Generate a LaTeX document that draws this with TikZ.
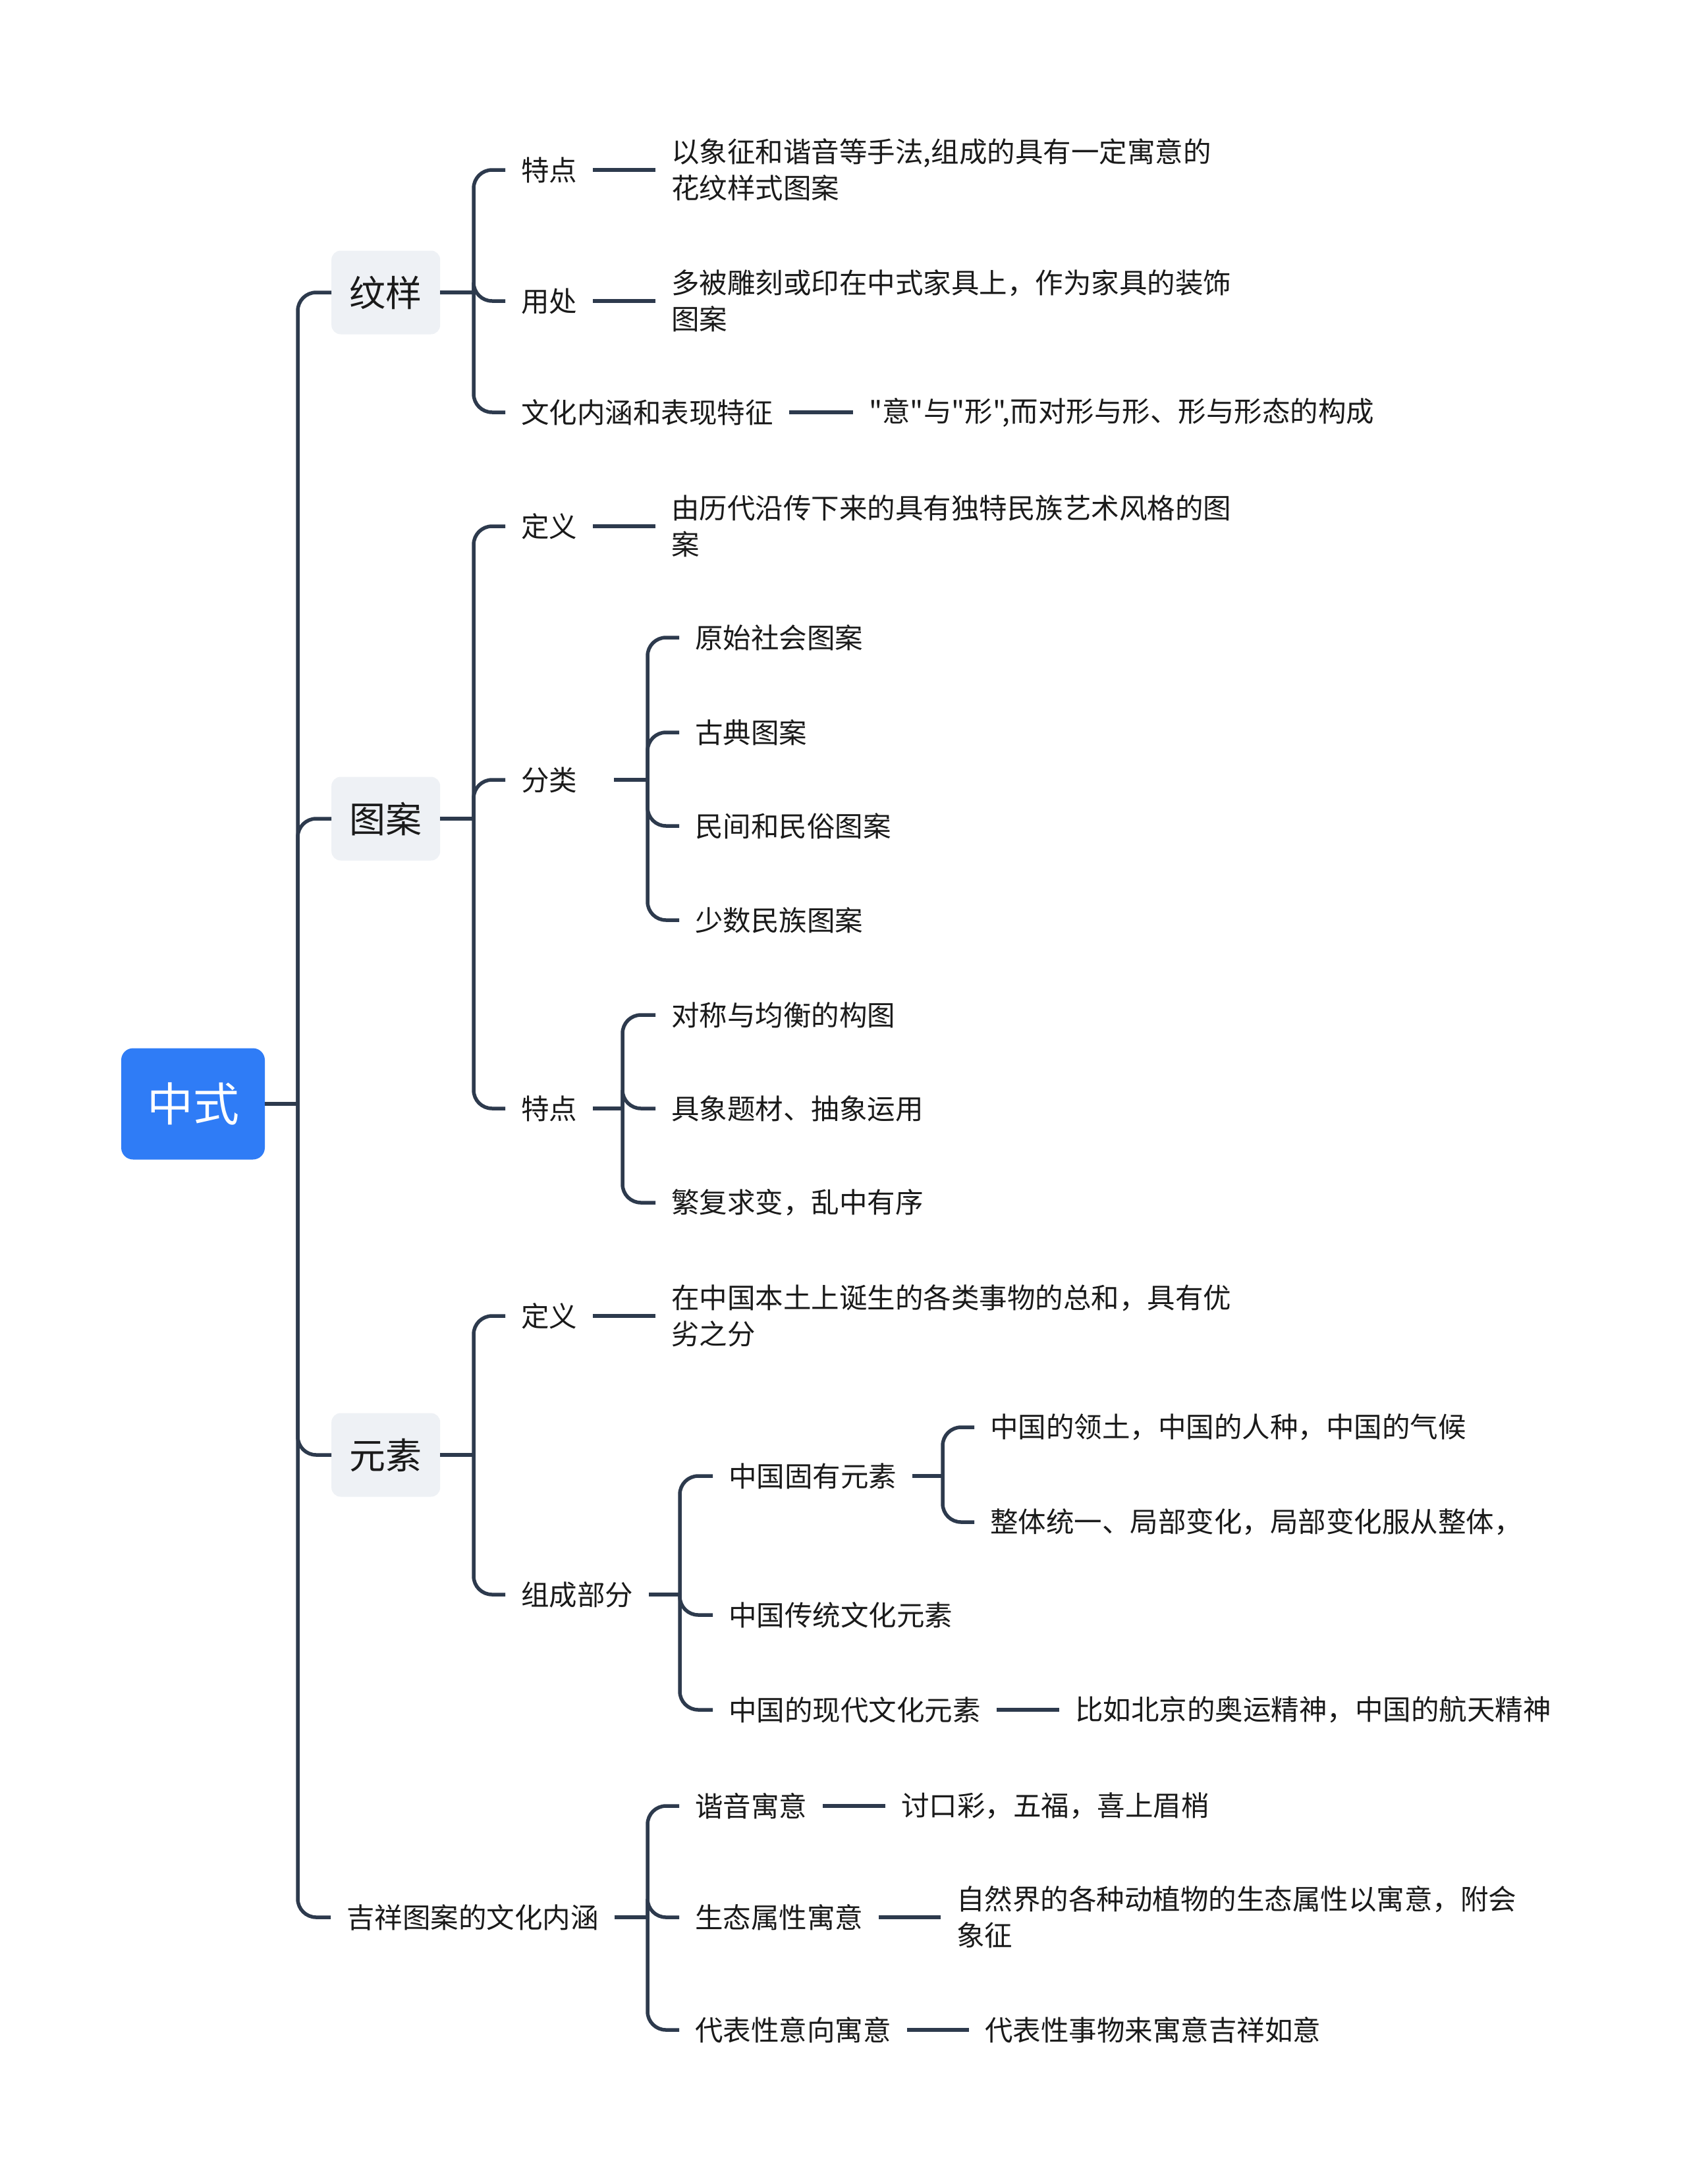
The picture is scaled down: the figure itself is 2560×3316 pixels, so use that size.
\documentclass[tikz,border=0pt]{standalone}
\usepackage{fontspec}
\setmainfont{Noto Sans CJK SC}
\newfontfamily\plainq{Noto Sans CJK SC}
\definecolor{lc}{HTML}{2D3A4D}
\definecolor{rootc}{HTML}{2F7CF6}
\definecolor{boxc}{HTML}{EEF1F5}
\definecolor{tc}{HTML}{1A1A1A}
\tikzset{
 conn/.style={draw=lc, line width=5.5pt, rounded corners=28pt},
 txt/.style={anchor=west, inner xsep=24pt, inner ysep=4pt, font=\fontsize{42.5}{55}\selectfont, align=left, text=tc},
 lone/.style={anchor=west, fill=boxc, rounded corners=14pt, minimum width=165pt, minimum height=127pt, font=\fontsize{55}{66}\selectfont, inner sep=0pt, text=tc},
 rootn/.style={fill=rootc, rounded corners=18pt, minimum width=218pt, minimum height=169pt, font=\fontsize{70}{80}\selectfont, text=white, inner sep=0pt},
}
\begin{document}
\begin{tikzpicture}[x=1pt,y=-1pt]
\fill[white] (0,0) rectangle (2560,3316);
\path[use as bounding box] (0,0) rectangle (2560,3316);
% root and level 1
\node[rootn] (root) at (293,1676) {中式};
\coordinate (j0) at (452,1676);
\node[lone] (wy) at (503,444) {纹样};
\node[lone] (ta) at (503,1243) {图案};
\node[lone] (ys) at (503,2209) {元素};
\node[txt] (jx) at (502,2911) {吉祥图案的文化内涵};
\draw[conn] (root.east) -- (j0);
\foreach \n in {wy,ta,ys,jx} \draw[conn] (j0) |- (\n.west);
% 纹样
\coordinate (j1) at (719,444);
\draw[conn] (wy.east) -- (j1);
\node[txt] (wy1) at (767,258) {特点};
\node[txt] (wy2) at (767,457) {用处};
\node[txt] (wy3) at (767,626) {文化内涵和表现特征};
\foreach \n in {wy1,wy2,wy3} \draw[conn] (j1) |- (\n.west);
\node[txt] (wy1a) at (995,258) {以象征和谐音等手法,组成的具有一定寓意的\\花纹样式图案};
\node[txt] (wy2a) at (995,457) {多被雕刻或印在中式家具上，作为家具的装饰\\图案};
\node[txt] (wy3a) at (1295,626) {\plainq "意"与"形",而对形与形、形与形态的构成};
\draw[conn] (wy1.east) -- (wy1a.west);
\draw[conn] (wy2.east) -- (wy2a.west);
\draw[conn] (wy3.east) -- (wy3a.west);
% 图案
\coordinate (j2) at (719,1243);
\draw[conn] (ta.east) -- (j2);
\node[txt] (ta1) at (767,799) {定义};
\node[txt, text width=117pt] (ta2) at (767,1184) {分类};
\node[txt] (ta3) at (767,1683) {特点};
\foreach \n in {ta1,ta2,ta3} \draw[conn] (j2) |- (\n.west);
\node[txt] (ta1a) at (995,799) {由历代沿传下来的具有独特民族艺术风格的图\\案};
\draw[conn] (ta1.east) -- (ta1a.west);
\coordinate (j22) at (983,1184);
\draw[conn] (ta2.east) -- (j22);
\node[txt] (ta21) at (1031,968) {原始社会图案};
\node[txt] (ta22) at (1031,1112) {古典图案};
\node[txt] (ta23) at (1031,1254) {民间和民俗图案};
\node[txt] (ta24) at (1031,1397) {少数民族图案};
\foreach \n in {ta21,ta22,ta23,ta24} \draw[conn] (j22) |- (\n.west);
\coordinate (j23) at (945,1683);
\draw[conn] (ta3.east) -- (j23);
\node[txt] (ta31) at (995,1541) {对称与均衡的构图};
\node[txt] (ta32) at (995,1683) {具象题材、抽象运用};
\node[txt] (ta33) at (995,1826) {繁复求变，乱中有序};
\foreach \n in {ta31,ta32,ta33} \draw[conn] (j23) |- (\n.west);
% 元素
\coordinate (j3) at (719,2209);
\draw[conn] (ys.east) -- (j3);
\node[txt] (ys1) at (767,1998) {定义};
\node[txt] (ys2) at (767,2421) {组成部分};
\foreach \n in {ys1,ys2} \draw[conn] (j3) |- (\n.west);
\node[txt] (ys1a) at (995,1998) {在中国本土上诞生的各类事物的总和，具有优\\劣之分};
\draw[conn] (ys1.east) -- (ys1a.west);
\coordinate (j32) at (1032,2421);
\draw[conn] (ys2.east) -- (j32);
\node[txt] (ys21) at (1082,2241) {中国固有元素};
\node[txt] (ys22) at (1082,2452) {中国传统文化元素};
\node[txt] (ys23) at (1082,2596) {中国的现代文化元素};
\foreach \n in {ys21,ys22,ys23} \draw[conn] (j32) |- (\n.west);
\coordinate (j321) at (1431,2241);
\draw[conn] (ys21.east) -- (j321);
\node[txt] (ys211) at (1479,2167) {中国的领土，中国的人种，中国的气候};
\node[txt] (ys212) at (1479,2311) {整体统一、局部变化，局部变化服从整体，};
\foreach \n in {ys211,ys212} \draw[conn] (j321) |- (\n.west);
\node[txt] (ys23a) at (1608,2596) {比如北京的奥运精神，中国的航天精神};
\draw[conn] (ys23.east) -- (ys23a.west);
% 吉祥图案的文化内涵
\coordinate (j4) at (983,2911);
\draw[conn] (jx.east) -- (j4);
\node[txt] (jx1) at (1031,2742) {谐音寓意};
\node[txt] (jx2) at (1031,2911) {生态属性寓意};
\node[txt] (jx3) at (1031,3082) {代表性意向寓意};
\foreach \n in {jx1,jx2,jx3} \draw[conn] (j4) |- (\n.west);
\node[txt] (jx1a) at (1344,2742) {讨口彩，五福，喜上眉梢};
\node[txt] (jx2a) at (1428,2911) {自然界的各种动植物的生态属性以寓意，附会\\象征};
\node[txt] (jx3a) at (1471,3082) {代表性事物来寓意吉祥如意};
\draw[conn] (jx1.east) -- (jx1a.west);
\draw[conn] (jx2.east) -- (jx2a.west);
\draw[conn] (jx3.east) -- (jx3a.west);
\end{tikzpicture}
\end{document}
